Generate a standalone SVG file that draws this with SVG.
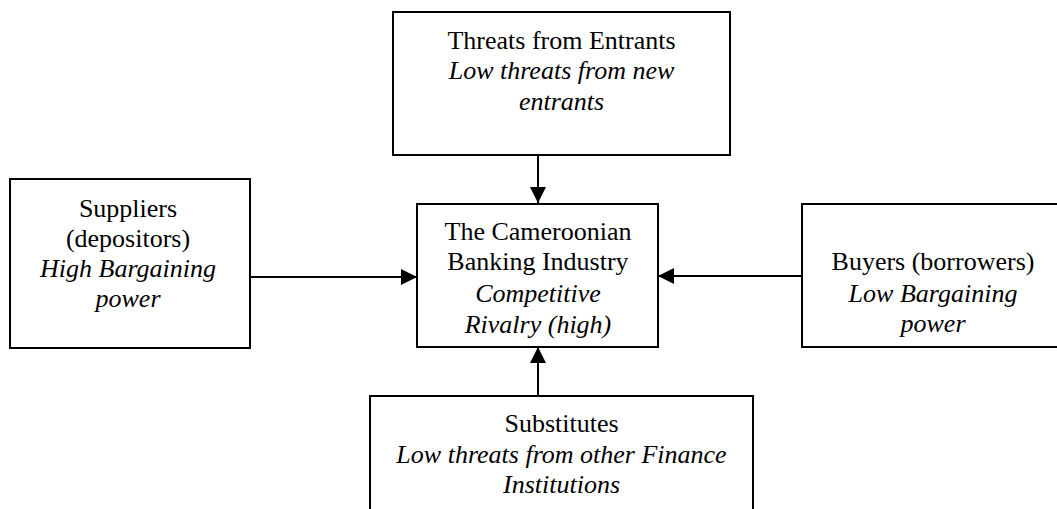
<svg xmlns="http://www.w3.org/2000/svg" width="1057" height="509" viewBox="0 0 1057 509">
  <style>
    .box { fill: #ffffff; stroke: #000000; stroke-width: 2; }
    .t { font-family: "Liberation Serif", "Times New Roman", serif; font-size: 26px; fill: #000000; text-anchor: middle; }
    .i { font-style: italic; }
    .conn { stroke: #000000; stroke-width: 2; fill: none; marker-end: url(#arrow); }
  </style>
  <defs>
    <marker id="arrow" markerWidth="16" markerHeight="16" viewBox="0 0 16 16" refX="16" refY="8" orient="auto" markerUnits="userSpaceOnUse">
      <path d="M0,0 L16,8 L0,16 Z" fill="#000000"/>
    </marker>
  </defs>
  <rect width="1057" height="509" fill="#ffffff"/>

  <!-- Forces pointing into the industry -->
  <g id="connectors">
    <line class="conn" x1="538" y1="156" x2="538" y2="203"/>
    <line class="conn" x1="250" y1="277" x2="417" y2="277"/>
    <line class="conn" x1="802" y1="276" x2="658" y2="276"/>
    <line class="conn" x1="538" y1="396" x2="538" y2="347"/>
  </g>

  <g id="entrants">
    <rect class="box" x="393" y="12" width="337" height="143"/>
    <text class="t" x="561.5" y="48.5">Threats from Entrants</text>
    <text class="t i" x="561.5" y="79">Low threats from new</text>
    <text class="t i" x="561.5" y="110">entrants</text>
  </g>

  <g id="suppliers">
    <rect class="box" x="10" y="179" width="240" height="169"/>
    <text class="t" x="128" y="217">Suppliers</text>
    <text class="t" x="128" y="247">(depositors)</text>
    <text class="t i" x="128" y="277">High Bargaining</text>
    <text class="t i" x="128" y="307">power</text>
  </g>

  <g id="industry">
    <rect class="box" x="417" y="204" width="241" height="143"/>
    <text class="t" x="538" y="240">The Cameroonian</text>
    <text class="t" x="538" y="270">Banking Industry</text>
    <text class="t i" x="538" y="302">Competitive</text>
    <text class="t i" x="538" y="333">Rivalry (high)</text>
  </g>

  <g id="buyers">
    <rect class="box" x="802" y="204" width="262" height="143"/>
    <text class="t" x="933" y="270">Buyers (borrowers)</text>
    <text class="t i" x="933" y="302">Low Bargaining</text>
    <text class="t i" x="933" y="332">power</text>
  </g>

  <g id="substitutes">
    <rect class="box" x="370" y="396" width="383" height="130"/>
    <text class="t" x="561.5" y="432">Substitutes</text>
    <text class="t i" x="561.5" y="463">Low threats from other Finance</text>
    <text class="t i" x="561.5" y="493">Institutions</text>
  </g>
</svg>
